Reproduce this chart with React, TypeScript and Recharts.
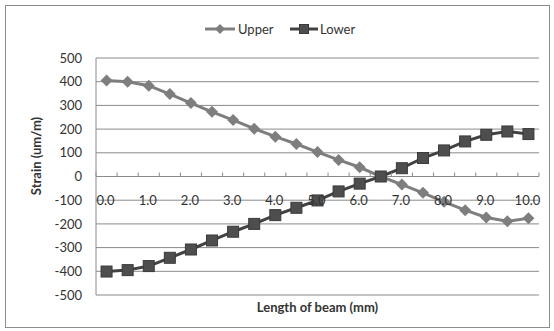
import { LineChart, Line, XAxis, YAxis, CartesianGrid, Legend } from 'recharts';

// beam positions (mm), one category per gauge
const positions = [
  '0.0', '0.5', '1.0', '1.5', '2.0', '2.5', '3.0', '3.5', '4.0', '4.5', '5.0',
  '5.5', '6.0', '6.5', '7.0', '7.5', '8.0', '8.5', '9.0', '9.5', '10.0',
];
const upperStrain = [405, 400, 383, 348, 310, 273, 238, 202, 168, 137, 103, 70, 39, 0, -34, -69, -107, -142, -173, -189, -176];
const lowerStrain = [-401, -395, -378, -343, -308, -270, -233, -200, -163, -132, -101, -63, -30, 0, 35, 78, 110, 148, 176, 190, 179];
const strainTicks = [-500, -400, -300, -200, -100, 0, 100, 200, 300, 400, 500];
const minorTicks = Array.from({ length: 51 }, (_, i) => -500 + i * 20);

const CHART_W = 554;
const CHART_H = 331;
const MARGIN = { top: 58, right: 15, bottom: 35, left: 0 };
const X_AXIS_H = 1;
const PLOT_H = CHART_H - MARGIN.top - MARGIN.bottom - X_AXIS_H;

const FONT = 'Lato, "Open Sans", sans-serif';
const GRID = '#8a8a8a';
const UPPER_COLOR = '#7e7e7e';
const LOWER_COLOR = '#424242';

const data = positions.map((pos, i) => ({
  pos,
  upper: upperStrain[i],
  lower: lowerStrain[i],
}));

// x labels sit on the zero line (middle of a symmetric domain), ticks between categories
function XTick(props: any) {
  const { x, y, payload, index } = props;
  const zeroY = y - PLOT_H / 2;
  const half = payload && payload.offset ? payload.offset : 10.5;
  const last = index === positions.length - 1;
  return (
    <g>
      <line x1={x - half} x2={x - half} y1={zeroY - 4} y2={zeroY} stroke={GRID} />
      {last && <line x1={x + half} x2={x + half} y1={zeroY - 4} y2={zeroY} stroke={GRID} />}
      {index % 2 === 0 && (
        <text x={x - 1} y={zeroY + 28} textAnchor="middle" fontSize={13} fontFamily={FONT} fill="#333">
          {payload.value}
        </text>
      )}
    </g>
  );
}

function Diamond(props: any) {
  const { cx, cy, index } = props;
  return (
    <path
      key={`u${index}`}
      d={`M${cx},${cy - 6}L${cx + 6},${cy}L${cx},${cy + 6}L${cx - 6},${cy}Z`}
      fill={UPPER_COLOR}
    />
  );
}

function Square(props: any) {
  const { cx, cy, index } = props;
  return <rect key={`l${index}`} x={cx - 5.5} y={cy - 5.5} width={11} height={11} fill="#4e4e4e" stroke="#3a3a3a" />;
}

function LegendBox() {
  return (
    <svg width={160} height={18} style={{ display: 'block' }}>
      <line x1={0} x2={30} y1={9} y2={9} stroke={UPPER_COLOR} strokeWidth={3} />
      <path d="M15,4L20,9L15,14L10,9Z" fill={UPPER_COLOR} />
      <text x={33} y={13.5} fontSize={13} fontFamily={FONT} fill="#333">Upper</text>
      <line x1={85} x2={113} y1={9} y2={9} stroke={LOWER_COLOR} strokeWidth={3} />
      <rect x={94.5} y={4.5} width={9} height={9} fill="#4e4e4e" stroke="#3a3a3a" />
      <text x={115} y={13.5} fontSize={13} fontFamily={FONT} fill="#333">Lower</text>
    </svg>
  );
}

export default function App() {
  return (
    <div style={{ position: 'absolute', left: 0, top: 0, width: CHART_W, height: CHART_H, background: '#fff', fontFamily: FONT }}>
      <div style={{ position: 'absolute', left: 5, top: 5, width: 543, height: 321, border: '1px solid #8c8c8c' }} />
      <LineChart width={CHART_W} height={CHART_H} data={data} margin={MARGIN}>
        <CartesianGrid vertical={false} stroke={GRID} yAxisId="main" />
        <XAxis
          dataKey="pos"
          scale="band"
          height={X_AXIS_H}
          interval={0}
          axisLine={false}
          tickLine={false}
          tickSize={0}
          tickMargin={0}
          tick={XTick}
        />
        <YAxis
          yAxisId="main"
          width={96}
          domain={[-500, 500]}
          ticks={strainTicks}
          interval={0}
          tickLine={false}
          tickSize={6}
          tickMargin={8}
          axisLine={{ stroke: GRID }}
          tick={{ fontSize: 13, fontFamily: FONT, fill: '#333' }}
        />
        <YAxis
          yAxisId="minor"
          orientation="left"
          mirror
          width={10}
          domain={[-500, 500]}
          ticks={minorTicks}
          interval={0}
          axisLine={false}
          tickSize={5}
          tickLine={{ stroke: GRID }}
          tick={() => <g />}
        />
        <Legend verticalAlign="middle" align="center" wrapperStyle={{ top: 20, left: 205, width: 160 }} content={LegendBox} />
        <Line
          yAxisId="main"
          dataKey="upper"
          name="Upper"
          stroke={UPPER_COLOR}
          strokeWidth={3}
          dot={Diamond}
          activeDot={false}
          isAnimationActive={false}
        />
        <Line
          yAxisId="main"
          dataKey="lower"
          name="Lower"
          stroke={LOWER_COLOR}
          strokeWidth={3}
          dot={Square}
          activeDot={false}
          isAnimationActive={false}
        />
      </LineChart>
      <div style={{ position: 'absolute', left: 96, width: 443, top: 299, textAlign: 'center', fontSize: 13, fontWeight: 700, color: '#333' }}>
        Length of beam (mm)
      </div>
      <div
        style={{
          position: 'absolute',
          left: 36,
          top: 156,
          transform: 'translate(-50%, -50%) rotate(-90deg)',
          whiteSpace: 'nowrap',
          fontSize: 13,
          fontWeight: 700,
          color: '#333',
        }}
      >
        Strain (um/m)
      </div>
    </div>
  );
}
